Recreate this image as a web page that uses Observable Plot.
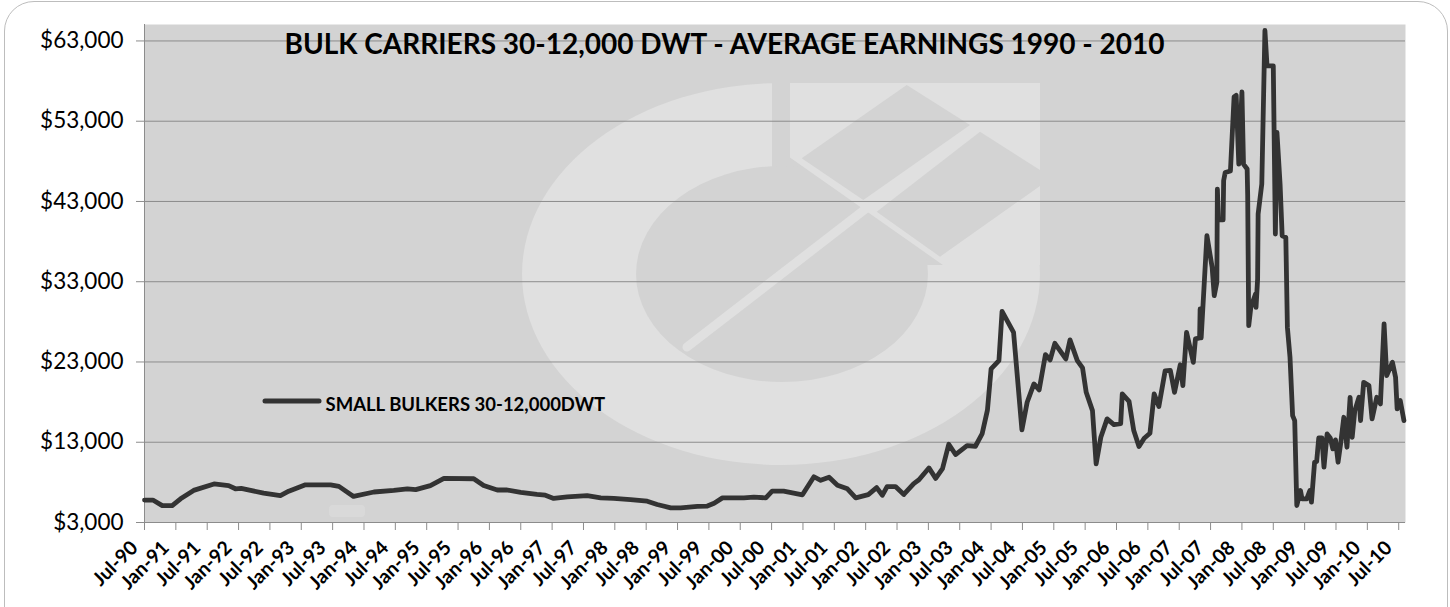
<!DOCTYPE html>
<html><head><meta charset="utf-8">
<script src="https://cdn.jsdelivr.net/npm/d3@7"></script>
<script src="https://cdn.jsdelivr.net/npm/@observablehq/plot@0.6"></script>
<style>
html,body{margin:0;padding:0;background:#fff;}
#wrap{position:relative;width:1450px;height:607px;overflow:hidden;}
#border{position:absolute;left:4px;top:1px;width:1444px;height:680px;border:1.5px solid #bdbdbd;border-radius:30px;box-sizing:border-box;}
#chart{position:absolute;left:0;top:0;}
</style></head><body><div id="wrap"><div id="border"></div><div id="chart"></div></div>
<script>
const title = "BULK CARRIERS 30-12,000 DWT - AVERAGE EARNINGS 1990 - 2010";
const seriesName = "SMALL BULKERS 30-12,000DWT";
const yTicks = [3000, 13000, 23000, 33000, 43000, 53000, 63000];
const xTickLabels = ["Jul-90","Jan-91","Jul-91","Jan-92","Jul-92","Jan-93","Jul-93","Jan-94","Jul-94","Jan-95","Jul-95","Jan-96","Jul-96","Jan-97","Jul-97","Jan-98","Jul-98","Jan-99","Jul-99","Jan-00","Jul-00","Jan-01","Jul-01","Jan-02","Jul-02","Jan-03","Jul-03","Jan-04","Jul-04","Jan-05","Jul-05","Jan-06","Jul-06","Jan-07","Jul-07","Jan-08","Jul-08","Jan-09","Jul-09","Jan-10","Jul-10"];
const xTickMonths = xTickLabels.map((d, i) => i * 6); // months since Jul-90
// months since Jul-1990 (position on the month axis, as read)
const months = [0,1.6,3.4,5.3,6.9,9.4,13.3,16.1,17.4,18.5,
20.3,22.8,26,27.6,30.8,35.6,37.2,40,43.9,47.7,
50.3,51.9,54.7,57.3,63,64.9,67.5,69.4,72,75.1,
76.7,78.3,80.9,84.7,87.3,89.8,93,96.2,98.1,100.7,
102.6,105.8,107.7,109,110.6,114.7,116.6,118.9,120.1,122.3,
125.9,128.1,129.4,131,132.6,134.5,136.1,138.5,140.1,141.2,
142.1,143.7,145.3,147.2,148.2,150.1,151.4,152.7,153.9,155.2,
157.4,159,160.3,161.3,162,163.5,164.1,166.3,167.9,168.9,
170.2,171.2,172.4,173.3,174.2,176.3,177.1,178.5,179.5,180.2,
181.4,182.1,183,184.2,185.5,186.8,187.1,188.4,189.3,190.3,
191.3,192.4,193.2,194.1,195.3,196.3,197.1,198.2,198.7,199.4,
200.7,201.1,201.9,202.0,202.2,203.3,204.3,204.7,205.2,205.3,
205.5,206.4,206.5,206.8,207.8,208.5,208.9,209.4,210.0,210.3,
211.0,211.1,211.3,211.7,212.6,212.7,213.0,213.1,213.8,214.4,
214.8,216.0,216.4,216.7,217.3,217.7,218.4,218.7,219.2,219.7,
220.1,220.5,221.2,221.5,222.4,223.0,223.3,223.9,224.3,224.7,
225.3,225.7,226.3,226.9,227.4,227.9,228.4,228.9,229.5,230.1,
230.7,231.1,231.6,232.4,232.7,233.3,234.3,234.9,235.8,236.5,
237.2,237.7,238.8,239.4,239.7,240.3,241.0];
// average earnings, $/day
const earnings = [5800,5800,5100,5100,5950,7000,7800,7600,7200,7250,
7000,6650,6350,6900,7700,7700,7500,6250,6800,7000,
7200,7100,7600,8500,8450,7600,7050,7050,6750,6500,
6400,6000,6200,6350,6070,6000,5860,5650,5240,4830,
4830,5000,5050,5400,6070,6070,6150,6070,6900,6900,
6450,8700,8250,8640,7650,7200,6070,6470,7350,6400,
7480,7480,6490,7850,8320,9800,8500,9700,12750,11470,
12590,12500,14080,17000,22130,23170,29310,26690,14540,17980,
20270,19520,23920,23260,25330,23380,25750,23170,22260,19220,
16940,10300,13620,15910,15200,15330,19020,18100,14450,12460,
13490,14120,19020,17450,21880,21950,19220,22650,20060,26690,
22960,25870,26000,29600,26000,38730,34790,31260,32920,44540,
40700,40700,45600,46600,46800,56020,56230,47660,56640,47660,
47040,43800,27520,29800,31470,29800,33340,41430,45170,64300,
59900,59900,38940,51600,45170,38730,38520,27310,23570,16320,
15700,5120,6980,5950,5950,6980,5530,10510,10600,13540,
13540,9890,14040,13540,12170,13300,10510,12880,16110,12380,
18600,13620,16940,18600,15700,20470,20060,15910,18600,17780,
27740,21300,22960,21090,17150,18190,15700];
if (months.length !== earnings.length) throw new Error("length mismatch " + months.length + " vs " + earnings.length);

const axisGray = "#8c8c8c";
const chart = Plot.plot({
  width: 1450, height: 607,
  marginLeft: 144, marginRight: 45, marginTop: 24, marginBottom: 85,
  style: {background: "transparent", fontFamily: "Lato, 'Open Sans', sans-serif", color: "#000", overflow: "visible"},
  x: {type: "linear", domain: [0, 241.3]},
  y: {domain: [3000, 65050]},
  marks: [
    Plot.frame({fill: "#d3d3d3", stroke: null}),
    Plot.gridY(yTicks, {stroke: axisGray, strokeOpacity: 1, strokeWidth: 1}),
    Plot.ruleX([0], {stroke: axisGray}),
    Plot.ruleY([3000], {stroke: axisGray}),
    Plot.axisY(yTicks, {tickSize: 8, tickPadding: 13, fontSize: 22.5, stroke: axisGray, tickFormat: d => "$" + d3.format(",")(d)}),
    Plot.axisX(xTickMonths, {tickSize: 8, stroke: axisGray, tickFormat: () => ""}),
    Plot.text(xTickLabels, {x: (d, i) => xTickMonths[i], frameAnchor: "bottom", rotate: -45, textAnchor: "end", lineAnchor: "middle", dx: -10, dy: 22, fontSize: 19.5, fontWeight: "bold", fill: "#000"}),
    Plot.line(earnings, {x: (d, i) => months[i], y: d => d, stroke: "#333333", strokeWidth: 4.8, strokeLinejoin: "round", strokeLinecap: "round"}),
    Plot.text([title], {frameAnchor: "top-left", dx: 140, dy: 29, lineAnchor: "bottom", textAnchor: "start", fontSize: 28, fontWeight: "bold", fill: "#000"}),
    Plot.text([seriesName], {frameAnchor: "top-left", dx: 181, dy: 386, lineAnchor: "bottom", textAnchor: "start", fontSize: 18.5, fontWeight: "bold", fill: "#000"})
  ]
});
document.getElementById("chart").appendChild(chart);

// faint logo watermark behind the data
const L = "#e0e0e0", B = "#d3d3d3";
const ns = "http://www.w3.org/2000/svg";
const wm = document.createElementNS(ns, "g");
wm.innerHTML = `
<ellipse cx="781" cy="274" rx="259" ry="191" fill="${L}"/>
<rect x="772" y="75" width="280" height="190" fill="${B}"/>
<ellipse cx="782" cy="274" rx="146" ry="108" fill="${B}"/>
<polygon points="790,83 1040,83 1040,265 943,265 790,157.6" fill="${L}"/>
<polygon points="801.7,158.3 906.7,85 970,125 863.3,200" fill="${B}"/>
<polygon points="876.7,211.7 980,131.7 1040,170 1040,186 940,256.7" fill="${B}"/>
<line x1="687" y1="347" x2="868" y2="207" stroke="${L}" stroke-width="9" stroke-linecap="round"/>
<rect x="329" y="505" width="36" height="12" rx="4" fill="#dcdcdc" opacity="0.7"/>`;
const frameEl = chart.querySelector('[aria-label="frame"]');
frameEl.parentNode.insertBefore(wm, frameEl.nextSibling);

// legend swatch
const sw = document.createElementNS(ns, "line");
sw.setAttribute("x1", 265); sw.setAttribute("x2", 319);
sw.setAttribute("y1", 401); sw.setAttribute("y2", 401);
sw.setAttribute("stroke", "#333333"); sw.setAttribute("stroke-width", 5); sw.setAttribute("stroke-linecap", "round");
chart.appendChild(sw);
</script>
</body></html>
